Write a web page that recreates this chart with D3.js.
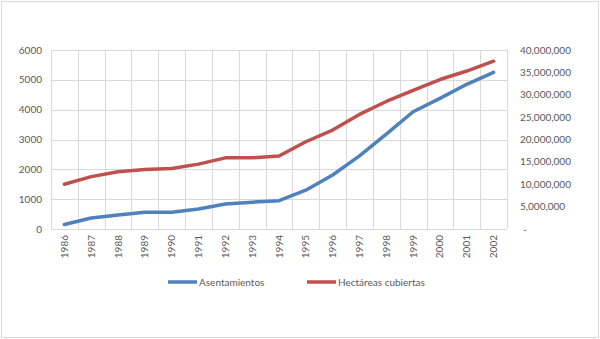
<!DOCTYPE html>
<html>
<head>
<meta charset="utf-8">
<script src="https://cdn.jsdelivr.net/npm/d3@7"></script>
<style>
  body { margin: 0; background: #fff; }
  text { font-family: Lato, "Open Sans", sans-serif; fill: #595959; }
</style>
</head>
<body>
<div id="chart"></div>
<script>
const years = ["1986","1987","1988","1989","1990","1991","1992","1993","1994",
  "1995","1996","1997","1998","1999","2000","2001","2002"];

const asentamientos = [150, 370, 470, 560, 560, 670, 840, 900, 950,
  1300, 1810, 2450, 3180, 3930, 4380, 4850, 5250];

const hectareas = [10000000, 11700000, 12800000, 13300000, 13500000, 14500000,
  15900000, 15900000, 16300000, 19500000, 22100000, 25600000, 28500000,
  31000000, 33400000, 35300000, 37500000];

const leftTicks = [0, 1000, 2000, 3000, 4000, 5000, 6000];
const rightTicks = [0, 5000000, 10000000, 15000000, 20000000, 25000000, 30000000, 35000000, 40000000];

const W = 600, H = 339;
const margin = { top: 50, right: 93, bottom: 110, left: 51 };
const width = W - margin.left - margin.right;
const height = H - margin.top - margin.bottom;

const root = d3.select("#chart").append("svg")
  .attr("width", W)
  .attr("height", H);

root.append("rect")
  .attr("x", 1.5).attr("y", 1.5)
  .attr("width", W - 3).attr("height", H - 3)
  .attr("fill", "#fff")
  .attr("stroke", "#d9d9d9");

const svg = root.append("g")
  .attr("transform", `translate(${margin.left},${margin.top})`);

const x = d3.scaleBand().domain(years).range([0, width]);
const yL = d3.scaleLinear().domain([0, 6000]).range([height, 0]);
const yR = d3.scaleLinear().domain([0, 40000000]).range([height, 0]);

// grid
svg.append("g")
  .selectAll("line")
  .data(leftTicks)
  .join("line")
  .attr("x1", 0).attr("x2", width)
  .attr("y1", d => Math.round(yL(d)) + 0.5)
  .attr("y2", d => Math.round(yL(d)) + 0.5)
  .attr("stroke", "#d9d9d9");

svg.append("g")
  .selectAll("line")
  .data(d3.range(years.length + 1))
  .join("line")
  .attr("x1", i => Math.round(i * x.step()) + 0.5)
  .attr("x2", i => Math.round(i * x.step()) + 0.5)
  .attr("y1", 0).attr("y2", height)
  .attr("stroke", "#d9d9d9");

// left axis labels
svg.append("g")
  .selectAll("text")
  .data(leftTicks)
  .join("text")
  .attr("x", -9)
  .attr("y", d => yL(d))
  .attr("dy", "0.35em")
  .attr("text-anchor", "end")
  .style("font-size", "10px")
  .text(d => d);

// right axis labels
svg.append("g")
  .selectAll("text")
  .data(rightTicks)
  .join("text")
  .attr("x", d => d === 0 ? width + 16 : width + 13)
  .attr("y", d => yR(d))
  .attr("dy", "0.35em")
  .attr("text-anchor", "start")
  .style("font-size", "10px")
  .text(d => d === 0 ? "-" : d3.format(",")(d));

// x labels, rotated
svg.append("g")
  .selectAll("text")
  .data(years)
  .join("text")
  .attr("transform", d => `translate(${x(d) + x.bandwidth() / 2},${height + 6}) rotate(-90)`)
  .attr("dy", "0.35em")
  .attr("text-anchor", "end")
  .style("font-size", "10px")
  .text(d => d);

const line = d3.line().x((d, i) => x(years[i]) + x.bandwidth() / 2);

svg.append("path")
  .datum(hectareas)
  .attr("fill", "none")
  .attr("stroke", "#c0504d")
  .attr("stroke-width", 3.5)
  .attr("stroke-linejoin", "round")
  .attr("stroke-linecap", "round")
  .attr("d", line.y(d => yR(d)));

svg.append("path")
  .datum(asentamientos)
  .attr("fill", "none")
  .attr("stroke", "#4f81bd")
  .attr("stroke-width", 3.5)
  .attr("stroke-linejoin", "round")
  .attr("stroke-linecap", "round")
  .attr("d", line.y(d => yL(d)));

// legend
const legendItems = [
  { name: "Asentamientos", color: "#4f81bd", x: 168 },
  { name: "Hectáreas cubiertas", color: "#c0504d", x: 307 }
];
const legend = root.append("g");
legendItems.forEach(it => {
  legend.append("line")
    .attr("x1", it.x).attr("x2", it.x + 29)
    .attr("y1", 282).attr("y2", 282)
    .attr("stroke", it.color)
    .attr("stroke-width", 3.5);
  legend.append("text")
    .attr("x", it.x + 31)
    .attr("y", 282)
    .attr("dy", "0.35em")
    .style("font-size", "10px")
    .text(it.name);
});
</script>
</body>
</html>
